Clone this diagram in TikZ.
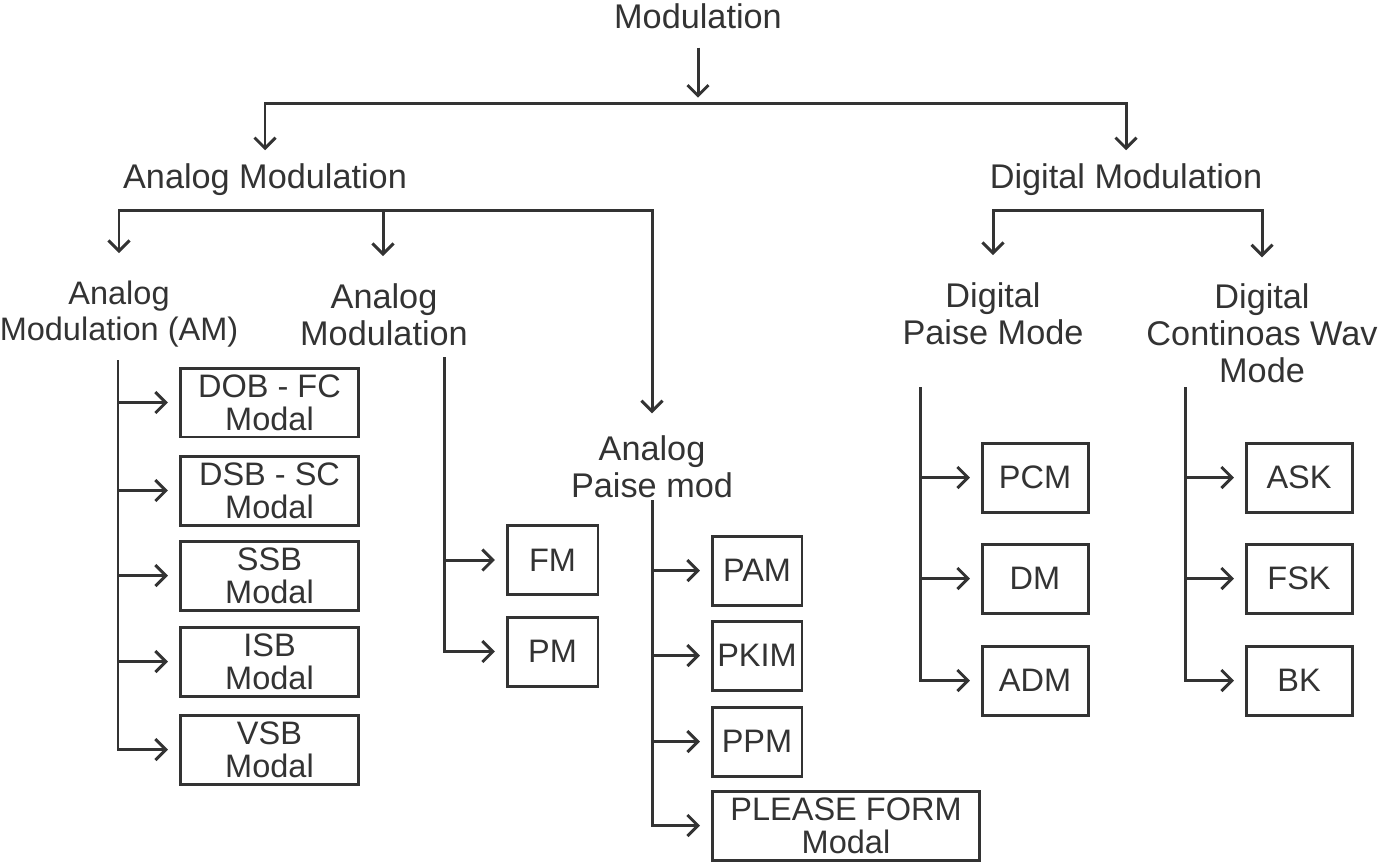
\documentclass[tikz,border=0pt]{standalone}
\usepackage{fontspec}
\setmainfont{Liberation Sans}
\usetikzlibrary{arrows.meta}
\definecolor{ink}{HTML}{333333}

\begin{document}
\begin{tikzpicture}[x=0.02cm, y=-0.02cm, ink, line width=1.7pt,
  >={Straight Barb[length=6pt,width=12pt]},
  lbl/.style={inner sep=0pt, align=center, font=\fontsize{19.5}{21}\selectfont, text=ink},
  box/.style={draw, inner sep=0pt, align=center, minimum height=1.38cm, font=\fontsize{18.5}{19}\selectfont, text=ink},
  tobox/.style={->, shorten >=6pt}]
				\useasboundingbox (0,0) rectangle (1378,863);
				%
				\node[lbl] (mod) at (698,16) {Modulation};
				\node[lbl] (ana) at (265,180) {Analog Modulation};
				\node[lbl] (dig) at (1126,180) {Digital Modulation};
				%
				\node[lbl, font=\fontsize{18.5}{20.5}\selectfont] (am) at (119,314) {Analog\\Modulation (AM)};
				\node[lbl] (anm) at (384,315) {Analog\\Modulation};
				\node[lbl] (apm) at (652,467) {Analog\\Paise mod};
				\node[lbl] (dpm) at (993,314) {Digital\\Paise Mode};
				\node[lbl] (dcw) at (1262,333) {Digital\\Continoas Wav\\Mode};
				%
				\node[box, minimum width=3.58cm] (dob) at (269.5,402.5) {DOB - FC\\Modal};
				\node[box, minimum width=3.58cm] (dsb) at (269.5,490.5) {DSB - SC\\Modal};
				\node[box, minimum width=3.58cm] (ssb) at (269.5,575.5) {SSB\\Modal};
				\node[box, minimum width=3.58cm] (isb) at (269.5,661.5) {ISB\\Modal};
				\node[box, minimum width=3.58cm] (vsb) at (269.5,749.5) {VSB\\Modal};
				%
				\node[box, minimum width=1.82cm] (fm) at (552.5,560) {FM};
				\node[box, minimum width=1.82cm] (pm) at (552.5,651.5) {PM};
				%
				\node[box, minimum width=1.80cm] (pam)  at (757,570.5) {PAM};
				\node[box, minimum width=1.80cm] (pkim) at (757,655.5) {PKIM};
				\node[box, minimum width=1.80cm] (ppm)  at (757,741.5) {PPM};
				\node[box, minimum width=5.36cm] (pfm)  at (846,825.5) {PLEASE FORM\\Modal};
				%
				\node[box, minimum width=2.12cm] (pcm) at (1035,477.5) {PCM};
				\node[box, minimum width=2.12cm] (dm)  at (1035,578.5) {DM};
				\node[box, minimum width=2.12cm] (adm) at (1035,680.5) {ADM};
				%
				\node[box, minimum width=2.12cm] (ask) at (1299,477.5) {ASK};
				\node[box, minimum width=2.12cm] (fsk) at (1299,578.5) {FSK};
				\node[box, minimum width=2.12cm] (bk)  at (1299,680.5) {BK};
				%
				\coordinate (bus0) at (700,103);
				\coordinate (abus) at (383,210);
				\coordinate (dbus) at (1126,210);
				\draw[->, shorten <=10pt, shorten >=3pt] (mod.south) -- (mod.south |- bus0);
				\draw[<->, shorten <=7pt, shorten >=7pt] (ana.north) |- (bus0) -| (dig.north);
				\draw[<->, shorten <=15pt, shorten >=12pt] (am.north) |- (abus) -| (apm.north);
				\draw[->, shorten >=15pt] (abus) -- (abus |- anm.north);
				\draw[<->, shorten <=15pt, shorten >=14pt] (dpm.north) |- (dbus) -| (dcw.north);
				%
				\coordinate (amtop)  at (118,360);
				\draw[tobox] (amtop |- dob.west) -- (dob.west);
				\draw[tobox] (amtop |- dsb.west) -- (dsb.west);
				\draw[tobox] (amtop |- ssb.west) -- (ssb.west);
				\draw[tobox] (amtop |- isb.west) -- (isb.west);
				\draw[tobox] (amtop) |- (vsb.west);
				%
				\coordinate (fmtop)  at (444,357);
				\draw[tobox] (fmtop |- fm.west) -- (fm.west);
				\draw[tobox] (fmtop) |- (pm.west);
				%
				\coordinate (pamtop) at (652,500);
				\draw[tobox] (pamtop |- pam.west) -- (pam.west);
				\draw[tobox] (pamtop |- pkim.west) -- (pkim.west);
				\draw[tobox] (pamtop |- ppm.west) -- (ppm.west);
				\draw[tobox] (pamtop) |- (pfm.west);
				%
				\coordinate (pcmtop) at (920,387);
				\draw[tobox] (pcmtop |- pcm.west) -- (pcm.west);
				\draw[tobox] (pcmtop |- dm.west) -- (dm.west);
				\draw[tobox] (pcmtop) |- (adm.west);
				%
				\coordinate (asktop) at (1185,387);
				\draw[tobox] (asktop |- ask.west) -- (ask.west);
				\draw[tobox] (asktop |- fsk.west) -- (fsk.west);
				\draw[tobox] (asktop) |- (bk.west);
\end{tikzpicture}
\end{document}
